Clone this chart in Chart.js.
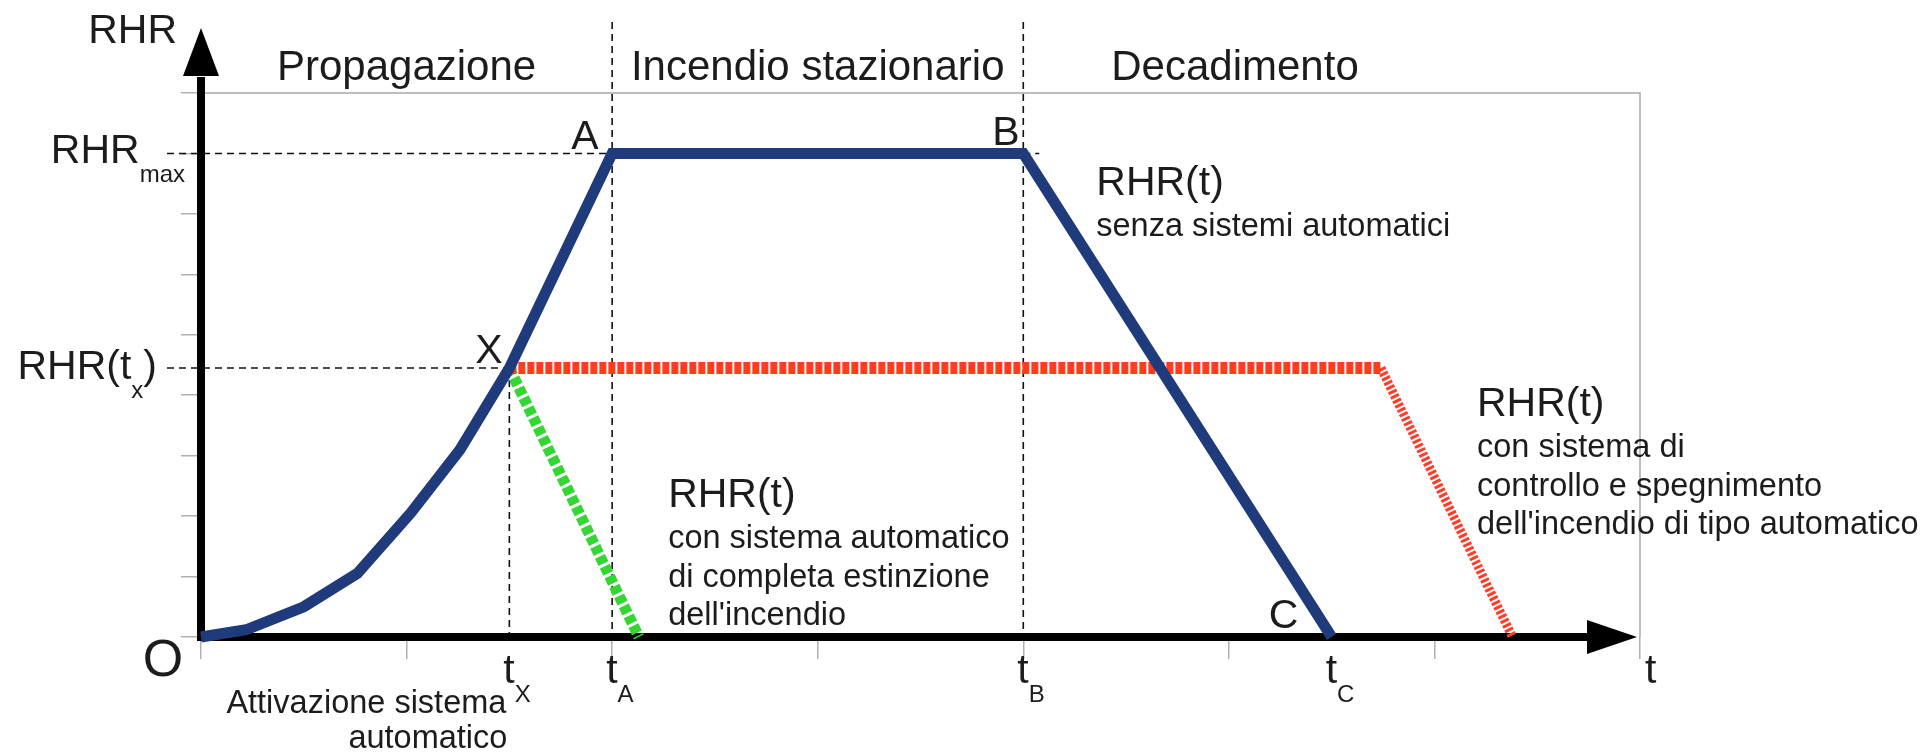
<!DOCTYPE html>
<html>
<head>
<meta charset="utf-8">
<script src="https://cdn.jsdelivr.net/npm/chart.js@4.4.1/dist/chart.umd.min.js"></script>
<style>
  html, body { margin: 0; padding: 0; background: #fff; }
  canvas { display: block; }
</style>
</head>
<body>
<canvas id="rhrChart" width="1928" height="754"></canvas>
<script>
'use strict';

// fire phases (header labels)
var phaseNames = ['Propagazione', 'Incendio stazionario', 'Decadimento'];

// characteristic times and heat release levels
var tX = 1.5, tA = 2, tB = 4, tC = 5.5;
var rhrMax = 8, rhrTx = 4.45;

// RHR(t) senza sistemi automatici
var freeT = [0, 0.22, 0.5, 0.76, 1.02, 1.26, tX, tA, tB, tC];
var freeRHR = [0, 0.12, 0.5, 1.05, 2.05, 3.1, rhrTx, rhrMax, rhrMax, 0];

// RHR(t) con sistema di controllo e spegnimento
var controlT = [tX, 5.74];
var controlRHR = [rhrTx, rhrTx];
var controlDecayT = [5.74, 6.38];
var controlDecayRHR = [rhrTx, 0];

// RHR(t) con sistema automatico di completa estinzione
var extinctT = [tX, 2.13];
var extinctRHR = [rhrTx, 0];

// tick labels
var xTickTimes = [tX, tA, tB, tC];
var xTickSubs = ['X', 'A', 'B', 'C'];
var pointNames = ['X', 'A', 'B', 'C'];

// notes
var freeNote = ['RHR(t)', 'senza sistemi automatici'];
var extinctNote = ['RHR(t)', 'con sistema automatico', 'di completa estinzione', "dell'incendio"];
var controlNote = ['RHR(t)', 'con sistema di', 'controllo e spegnimento', "dell'incendio di tipo automatico"];
var activationNote = ['Attivazione sistema', 'automatico'];

var FONT = '"Liberation Sans", Arial, sans-serif';
var INK = '#1c1c1c';

function toPoints(xs, ys) {
  var pts = [];
  for (var i = 0; i < xs.length; i++) {
    pts.push({ x: xs[i], y: ys[i] });
  }
  return pts;
}

function txt(ctx, s, x, y, size, align) {
  ctx.font = size + 'px ' + FONT;
  ctx.textAlign = align || 'left';
  ctx.fillText(s, x, y);
}

// main text + subscript (+ optional tail), left aligned at x or right aligned
function subTxt(ctx, main, sub, tail, x, y, align) {
  ctx.font = '41px ' + FONT;
  var w1 = ctx.measureText(main).width;
  var w3 = tail ? ctx.measureText(tail).width : 0;
  ctx.font = '24px ' + FONT;
  var w2 = ctx.measureText(sub).width;
  var x0 = align === 'right' ? x - (w1 + w2 + w3) : x;
  txt(ctx, main, x0, y, 41);
  txt(ctx, sub, x0 + w1, y + 19, 24);
  if (tail) txt(ctx, tail, x0 + w1 + w2, y, 41);
}

function note(ctx, lines, x, y) {
  var offs = [0, 41, 80, 118];
  for (var i = 0; i < lines.length; i++) {
    txt(ctx, lines[i], x, y + offs[i], i === 0 ? 41 : 32.5);
  }
}

function seg(ctx, x1, y1, x2, y2) {
  ctx.beginPath();
  ctx.moveTo(x1, y1);
  ctx.lineTo(x2, y2);
  ctx.stroke();
}

var diagramPlugin = {
  id: 'diagram',
  beforeDatasetsDraw: function (chart) {
    var ctx = chart.ctx;
    var a = chart.chartArea;
    var xs = chart.scales.x;
    var ys = chart.scales.y;
    ctx.save();

    // frame top and right
    ctx.strokeStyle = '#a8a8a8';
    ctx.lineWidth = 1.5;
    ctx.beginPath();
    ctx.moveTo(a.left, a.top);
    ctx.lineTo(a.right, a.top);
    ctx.lineTo(a.right, a.bottom);
    ctx.stroke();

    // dashed guides
    ctx.strokeStyle = '#111';
    ctx.lineWidth = 1.6;
    ctx.setLineDash([7, 5]);
    var yMax = ys.getPixelForValue(rhrMax);
    var yTx = ys.getPixelForValue(rhrTx);
    seg(ctx, a.left - 34, yMax, xs.getPixelForValue(tA), yMax);
    seg(ctx, xs.getPixelForValue(tB), yMax, xs.getPixelForValue(tB) + 16, yMax);
    seg(ctx, a.left - 34, yTx, xs.getPixelForValue(tX), yTx);
    seg(ctx, xs.getPixelForValue(tX), yTx, xs.getPixelForValue(tX), a.bottom);
    seg(ctx, xs.getPixelForValue(tA), a.top - 71, xs.getPixelForValue(tA), a.bottom);
    seg(ctx, xs.getPixelForValue(tB), a.top - 71, xs.getPixelForValue(tB), a.bottom);
    ctx.setLineDash([]);

    // axes with arrows
    var ox = xs.getPixelForValue(0);
    var oy = ys.getPixelForValue(0);
    ctx.strokeStyle = '#000';
    ctx.fillStyle = '#000';
    ctx.lineWidth = 8;
    seg(ctx, ox, oy + 4, ox, a.top - 16);
    seg(ctx, ox - 4, oy, a.right - 50, oy);
    ctx.beginPath();
    ctx.moveTo(ox, a.top - 65);
    ctx.lineTo(ox - 18, a.top - 17);
    ctx.lineTo(ox + 18, a.top - 17);
    ctx.closePath();
    ctx.fill();
    ctx.beginPath();
    ctx.moveTo(a.right - 3, oy);
    ctx.lineTo(a.right - 53, oy - 17);
    ctx.lineTo(a.right - 53, oy + 17);
    ctx.closePath();
    ctx.fill();
    ctx.restore();
  },
  afterDraw: function (chart) {
    var ctx = chart.ctx;
    var a = chart.chartArea;
    var xs = chart.scales.x;
    var ys = chart.scales.y;
    ctx.save();
    ctx.fillStyle = INK;
    ctx.textBaseline = 'alphabetic';

    // phase headers
    var centers = [(0 + tA) / 2, (tA + tB) / 2, tB + 1.03];
    for (var i = 0; i < phaseNames.length; i++) {
      txt(ctx, phaseNames[i], xs.getPixelForValue(centers[i]), a.top - 13, 42, 'center');
    }

    // axis names and y labels
    var ox = xs.getPixelForValue(0);
    var oy = ys.getPixelForValue(0);
    var yTx = ys.getPixelForValue(rhrTx);
    txt(ctx, 'RHR', ox - 24, a.top - 50, 41, 'right');
    txt(ctx, 'O', ox - 38, oy + 39, 52, 'center');
    txt(ctx, 't', a.right + 5, oy + 46, 41);
    subTxt(ctx, 'RHR', 'max', '', ox - 16, ys.getPixelForValue(rhrMax) + 10, 'right');
    subTxt(ctx, 'RHR(t', 'x', ')', ox - 44, yTx + 11, 'right');

    // time tick labels
    for (var j = 0; j < xTickTimes.length; j++) {
      subTxt(ctx, 't', xTickSubs[j], '', xs.getPixelForValue(xTickTimes[j]) - 6, oy + 46, 'left');
    }

    // point names
    var pts = [[tX, rhrTx, -34, -5], [tA, rhrMax, -41, -4], [tB, rhrMax, -31, -8], [tC, 0, -63, -9]];
    for (var k = 0; k < pts.length; k++) {
      txt(ctx, pointNames[k], xs.getPixelForValue(pts[k][0]) + pts[k][2], ys.getPixelForValue(pts[k][1]) + pts[k][3], 41);
    }

    // notes
    note(ctx, freeNote, xs.getPixelForValue(tB) + 73, ys.getPixelForValue(rhrMax) + 42);
    note(ctx, extinctNote, xs.getPixelForValue(tA) + 56, oy - 130);
    note(ctx, controlNote, xs.getPixelForValue(controlT[1]) + 96, yTx + 48);
    txt(ctx, activationNote[0], xs.getPixelForValue(tX) - 3, oy + 76, 32.5, 'right');
    txt(ctx, activationNote[1], xs.getPixelForValue(tX) - 2, oy + 111, 32.5, 'right');
    ctx.restore();
  }
};

var ctx = document.getElementById('rhrChart').getContext('2d');
var chart = new Chart(ctx, {
  type: 'line',
  data: {
    datasets: [{
      label: 'senza sistemi automatici',
      data: toPoints(freeT, freeRHR),
      borderColor: '#1f3b7c',
      borderWidth: 11,
      borderJoinStyle: 'miter',
      clip: false
    }, {
      label: 'controllo e spegnimento',
      data: toPoints(controlT, controlRHR),
      borderColor: '#ff3d1e',
      borderWidth: 12,
      borderDash: [7, 2],
      clip: false
    }, {
      label: 'controllo e spegnimento (decadimento)',
      data: toPoints(controlDecayT, controlDecayRHR),
      borderColor: '#ff3d2a',
      borderWidth: 9,
      borderDash: [3, 2],
      clip: false
    }, {
      label: 'completa estinzione',
      data: toPoints(extinctT, extinctRHR),
      borderColor: '#33d633',
      borderWidth: 11,
      borderDash: [8, 3],
      clip: false
    }]
  },
  options: {
    responsive: false,
    animation: false,
    devicePixelRatio: 1,
    layout: { padding: { left: 181, right: 288, top: 93, bottom: 95 } },
    elements: { point: { radius: 0 }, line: { tension: 0, fill: false } },
    plugins: { legend: { display: false }, tooltip: { enabled: false } },
    scales: {
      x: {
        type: 'linear',
        min: 0,
        max: 7,
        ticks: { display: false, stepSize: 1 },
        grid: { drawOnChartArea: false, drawTicks: true, tickLength: 22, color: '#b0b0b0', lineWidth: 1.5 },
        border: { display: false },
        afterFit: function (s) { s.height = 22; }
      },
      y: {
        type: 'linear',
        min: 0,
        max: 9,
        ticks: { display: false, stepSize: 1 },
        grid: { drawOnChartArea: false, drawTicks: true, tickLength: 20, color: '#b0b0b0', lineWidth: 1.5 },
        border: { display: false },
        afterFit: function (s) { s.width = 20; }
      }
    }
  },
  plugins: [diagramPlugin]
});
</script>
</body>
</html>
